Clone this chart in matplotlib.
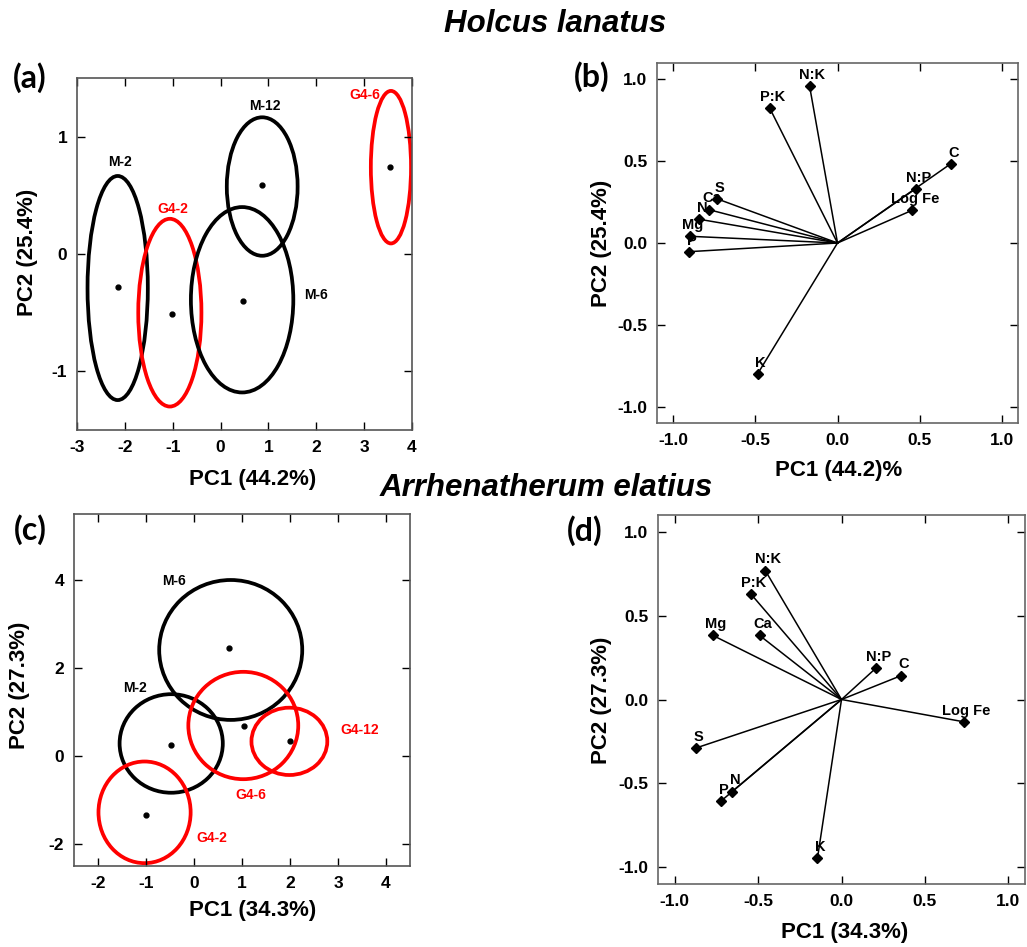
import matplotlib
matplotlib.use('Agg')
import matplotlib.pyplot as plt
from matplotlib.patches import Ellipse

plt.rcParams['font.family'] = 'Liberation Sans'
plt.rcParams['font.weight'] = 'bold'
plt.rcParams['axes.unicode_minus'] = False

# (a) Holcus lanatus - group scores
a_groups = ['M-2', 'G4-2', 'M-6', 'M-12', 'G4-6']
a_colors = ['black', 'red', 'black', 'black', 'red']
a_mean_x = [-2.15, -1.01, 0.46, 0.87, 3.53]
a_mean_y = [-0.28, -0.51, -0.40, 0.59, 0.74]
a_ell_x = [-2.15, -1.06, 0.45, 0.87, 3.56]
a_ell_y = [-0.29, -0.50, -0.39, 0.575, 0.74]
a_ell_w = [1.26, 1.32, 2.14, 1.48, 0.84]
a_ell_h = [1.91, 1.60, 1.58, 1.18, 1.30]
a_lab_x = [-2.10, -1.00, 2.00, 0.93, 3.02]
a_lab_y = [0.78, 0.38, -0.35, 1.26, 1.355]
a_ticks_x = [-3, -2, -1, 0, 1, 2, 3, 4]
a_ticks_y = [-1, 0, 1]

# (b) Holcus lanatus - loadings
b_vars = ['N:K', 'P:K', 'C', 'N:P', 'Log Fe', 'S', 'Ca', 'N', 'Mg', 'P', 'K']
b_x = [-0.17, -0.414, 0.69, 0.477, 0.455, -0.734, -0.785, -0.842, -0.90, -0.904, -0.487]
b_y = [0.958, 0.826, 0.484, 0.332, 0.20, 0.270, 0.204, 0.145, 0.041, -0.053, -0.80]

# (c) Arrhenatherum elatius - group scores
c_groups = ['M-6', 'M-2', 'G4-6', 'G4-12', 'G4-2']
c_colors = ['black', 'black', 'red', 'red', 'red']
c_mean_x = [0.73, -0.475, 1.05, 2.00, -1.01]
c_mean_y = [2.45, 0.25, 0.69, 0.34, -1.33]
c_ell_x = [0.765, -0.475, 1.027, 1.987, -1.03]
c_ell_y = [2.41, 0.285, 0.693, 0.333, -1.28]
c_ell_w = [2.98, 2.15, 2.29, 1.58, 1.92]
c_ell_h = [3.18, 2.24, 2.44, 1.53, 2.31]
c_lab_x = [-0.42, -1.24, 1.19, 3.46, 0.37]
c_lab_y = [3.98, 1.54, -0.89, 0.59, -1.87]
c_ticks_x = [-2, -1, 0, 1, 2, 3, 4]
c_ticks_y = [-2, 0, 2, 4]

# (d) Arrhenatherum elatius - loadings
d_vars = ['N:K', 'P:K', 'Mg', 'Ca', 'N:P', 'C', 'Log Fe', 'S', 'N', 'P', 'K']
d_x = [-0.457, -0.544, -0.771, -0.491, 0.204, 0.359, 0.733, -0.875, -0.656, -0.723, -0.144]
d_y = [0.769, 0.630, 0.382, 0.382, 0.185, 0.143, -0.133, -0.290, -0.549, -0.606, -0.946]

load_ticks = [-1.0, -0.5, 0.0, 0.5, 1.0]

fig = plt.figure(figsize=(10.27, 9.47), dpi=100)


def style_axes(ax, spine_col, xt, yt, fmt):
    for s in ax.spines.values():
        s.set_color(spine_col)
        s.set_linewidth(1.2)
    ax.tick_params(direction='in', top=True, right=True, length=6, width=1,
                   pad=7, colors='black')
    ax.set_xticks(xt)
    ax.set_yticks(yt)
    ax.set_xticklabels([fmt % v for v in xt], fontsize=12.5, fontweight='bold')
    ax.set_yticklabels([fmt % v for v in yt], fontsize=12.5, fontweight='bold')


def score_panel(ax, ex, ey, ew, eh, mx, my, cols, names, lx, ly):
    for i in range(len(names)):
        ax.add_patch(Ellipse((ex[i], ey[i]), ew[i], eh[i], fill=False,
                             edgecolor=cols[i], linewidth=2.7))
        ax.plot(mx[i], my[i], 'o', color='black', markersize=3.5)
        ax.text(lx[i], ly[i], names[i], color=cols[i], fontsize=10,
                fontweight='bold', ha='center', va='center', zorder=5)


def loading_panel(ax, xs, ys, names):
    for i in range(len(names)):
        ax.plot([0, xs[i]], [0, ys[i]], color='black', linewidth=1.1)
        ax.plot(xs[i], ys[i], 'D', color='black', markersize=5)
    for i in range(len(names)):
        ax.annotate(names[i], (xs[i], ys[i]), xytext=(2, 3),
                    textcoords='offset points', ha='center', va='bottom',
                    fontsize=10.5, fontweight='bold', zorder=6)
    ax.set_xlim(-1.1, 1.1)
    ax.set_ylim(-1.1, 1.1)


W, H = 1027.0, 947.0


def px_axes(l, t, r, b):
    return fig.add_axes([l / W, 1 - b / H, (r - l) / W, (b - t) / H])


# panel (a)
ax_a = px_axes(77, 78, 412, 430)
score_panel(ax_a, a_ell_x, a_ell_y, a_ell_w, a_ell_h, a_mean_x, a_mean_y,
            a_colors, a_groups, a_lab_x, a_lab_y)
ax_a.set_xlim(-3, 4)
ax_a.set_ylim(-1.5, 1.5)
style_axes(ax_a, '#555555', a_ticks_x, a_ticks_y, '%d')

# panel (b)
ax_b = px_axes(657, 63, 1018, 423)
loading_panel(ax_b, b_x, b_y, b_vars)
style_axes(ax_b, '#666666', load_ticks, load_ticks, '%.1f')

# panel (c)
ax_c = px_axes(74, 514, 410, 866)
score_panel(ax_c, c_ell_x, c_ell_y, c_ell_w, c_ell_h, c_mean_x, c_mean_y,
            c_colors, c_groups, c_lab_x, c_lab_y)
ax_c.set_xlim(-2.5, 4.5)
ax_c.set_ylim(-2.5, 5.5)
style_axes(ax_c, '#555555', c_ticks_x, c_ticks_y, '%d')

# panel (d)
ax_d = px_axes(658, 515, 1025, 884)
loading_panel(ax_d, d_x, d_y, d_vars)
style_axes(ax_d, '#666666', load_ticks, load_ticks, '%.1f')


def ftext(x, y, s, **kw):
    fig.text(x / W, 1 - y / H, s, ha='center', va='center', **kw)


# axis labels
ftext(253, 480, 'PC1 (44.2%)', fontsize=16, fontweight='bold')
ftext(27, 252, 'PC2 (25.4%)', fontsize=16, fontweight='bold', rotation=90)
ftext(839, 470, 'PC1 (44.2)%', fontsize=16, fontweight='bold')
ftext(601, 243, 'PC2 (25.4%)', fontsize=16, fontweight='bold', rotation=90)
ftext(253, 910, 'PC1 (34.3%)', fontsize=16, fontweight='bold')
ftext(20, 685, 'PC2 (27.3%)', fontsize=16, fontweight='bold', rotation=90)
ftext(845, 932, 'PC1 (34.3%)', fontsize=16, fontweight='bold')
ftext(601, 700, 'PC2 (27.3%)', fontsize=16, fontweight='bold', rotation=90)

# species titles
ftext(555, 24, 'Holcus lanatus', fontsize=22.5, fontweight='bold', style='italic')
ftext(546, 488, 'Arrhenatherum elatius', fontsize=22.5, fontweight='bold', style='italic')

# panel letters
for lx, ly, s in [(30, 78, '(a)'), (592, 77, '(b)'), (30, 530, '(c)'), (585, 531, '(d)')]:
    ftext(lx, ly, s, fontsize=23, fontweight='bold', family='Lato')

fig.savefig('out.png', dpi=100)
